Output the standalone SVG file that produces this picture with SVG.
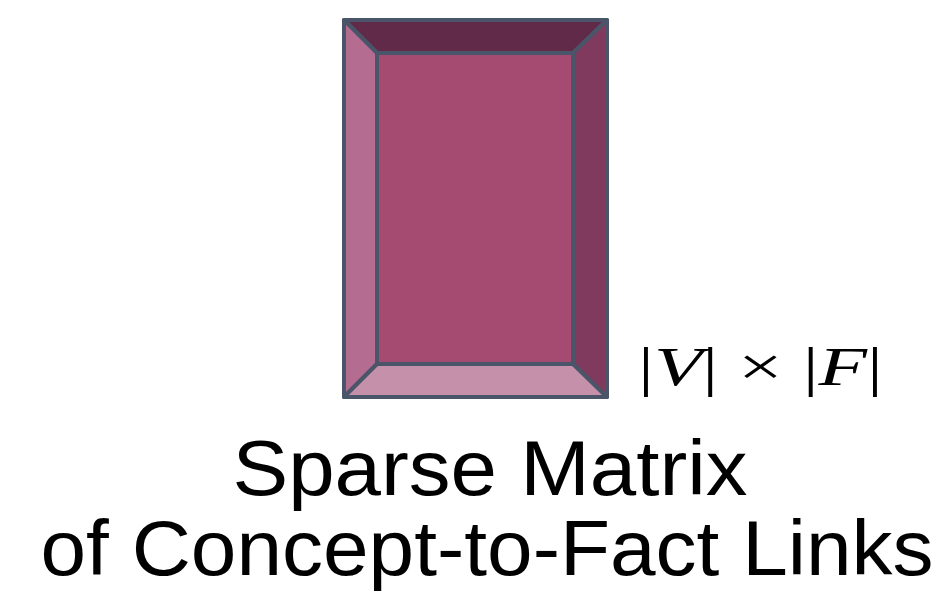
<svg xmlns="http://www.w3.org/2000/svg" width="949" height="606" viewBox="0 0 949 606">
<style>
.f{stroke:#4b5569;stroke-width:4;stroke-linejoin:round}
.t{font-family:"Comic Sans MS","Liberation Sans",sans-serif;font-size:78px;fill:#000;text-anchor:middle}
.m{font-family:"Liberation Serif","DejaVu Serif",serif;font-size:54px;fill:#000}
</style>
<rect width="949" height="606" fill="#fff"/>
<g id="matrix">
<polygon class="f" fill="#612a48" points="344,20 607,20 573,53 377,53"/>
<polygon class="f" fill="#b56c91" points="344,20 377,53 377,364 344,397"/>
<polygon class="f" fill="#7f3a5d" points="607,20 607,397 573,364 573,53"/>
<polygon class="f" fill="#c590a9" points="344,397 377,364 573,364 607,397"/>
<rect class="f" fill="#a54b72" x="377" y="53" width="196" height="311"/>
</g>
<g id="dims">
<text class="m" x="638" y="385" textLength="245" lengthAdjust="spacingAndGlyphs">|<tspan font-style="italic">V</tspan>| × |<tspan font-style="italic">F</tspan>|</text>
</g>
<g id="title">
<text class="t"><tspan x="490" y="495" textLength="515" lengthAdjust="spacingAndGlyphs">Sparse Matrix</tspan><tspan x="487" y="575" textLength="893" lengthAdjust="spacingAndGlyphs">of Concept-to-Fact Links</tspan></text>
</g>
</svg>
